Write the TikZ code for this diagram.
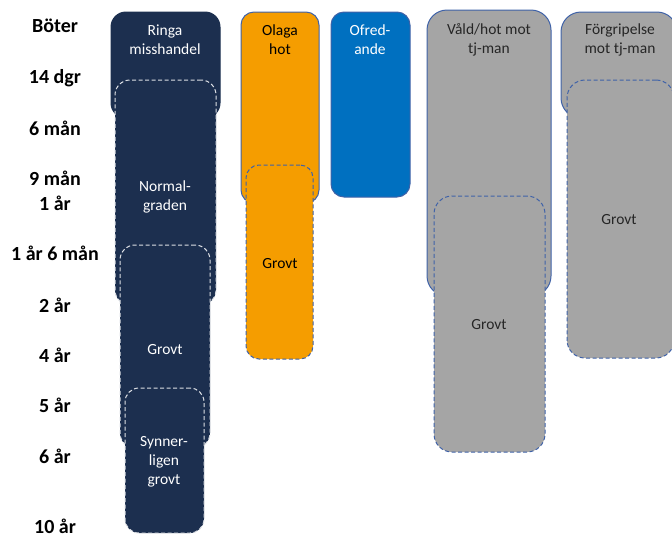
\documentclass[tikz,border=0pt]{standalone}
\usepackage{fontspec}
\setmainfont{Carlito}
\definecolor{navy}{HTML}{1C2F4F}
\definecolor{orng}{HTML}{F59D00}
\definecolor{ofblue}{HTML}{0070C0}
\definecolor{grayfill}{HTML}{A5A5A5}
\definecolor{edgeblue}{HTML}{3F62A8}
\tikzset{
  dashpat/.style={dash pattern=on 4pt off 2.5pt},
  navybox/.style={fill=navy, draw=navy, line width=1pt},
  navydash/.style={fill=navy, draw=white!85!navy, line width=1pt, dashpat},
  orbox/.style={fill=orng, draw=edgeblue, line width=1pt},
  ordash/.style={fill=orng, draw=edgeblue, line width=1pt, dashpat},
  ofbox/.style={fill=ofblue, draw=edgeblue, line width=1pt},
  grbox/.style={fill=grayfill, draw=edgeblue, line width=1pt},
  grdash/.style={fill=grayfill, draw=edgeblue, line width=1pt, dashpat},
  scale label/.style={font=\fontsize{20}{22}\selectfont\bfseries, align=center, inner sep=0pt},
  boxtext/.style={font=\fontsize{15.5}{19}\selectfont, align=center, inner sep=0pt},
}
\newcommand{\rbox}[7]{% name, style, x1,y1,x2,y2, radius
  \node[#2, rounded corners=#7pt, inner sep=0pt, minimum width={(#5-#3)*1pt}, minimum height={(#6-#4)*1pt}] (#1) at ({(#3+#5)/2},{(#4+#6)/2}) {};}
\begin{document}
\begin{tikzpicture}[x=1pt,y=-1pt]
\useasboundingbox (0,0) rectangle (672,539);
\begin{scope}
\clip (0,0) rectangle (672,539);
% column 1
\rbox{ringa}{navybox}{111}{12}{220}{118}{15}
\rbox{normal}{navydash}{115}{80}{216}{305}{15}
\rbox{grovtn}{navydash}{120}{245}{210}{448}{15}
\rbox{synn}{navydash}{125}{388}{204}{533}{14}
% column 2
\rbox{olaga}{orbox}{241}{12}{319}{203}{13}
\rbox{olagag}{ordash}{246}{165}{313}{359}{13}
% column 3
\rbox{ofred}{ofbox}{331}{12}{410}{197}{13}
% column 4
\rbox{vald}{grbox}{427}{10}{551}{296}{20}
\rbox{valdg}{grdash}{434}{196}{545}{452}{18}
% column 5
\rbox{forg}{grbox}{561}{12}{677}{118}{20}
\rbox{forgg}{grdash}{567}{80}{674}{358}{18}
\end{scope}
% box texts
\node[boxtext, text=white] (t1) at (165,40) {Ringa\\misshandel};
\node[boxtext, text=white] (t2) at (165,197) {Normal-\\graden};
\node[boxtext, text=white] (t3) at (165,350) {Grovt};
\node[boxtext, text=white] (t4) at (164,462) {Synner-\\ligen\\grovt};
\node[boxtext, text=black] (t5) at (280,40) {Olaga\\hot};
\node[boxtext, text=black] (t6) at (280,264) {Grovt};
\node[boxtext, text=white] (t7) at (370,40) {Ofred-\\ande};
\node[boxtext, text=black!85] (t8) at (489,40) {Våld/hot mot\\tj-man};
\node[boxtext, text=black!85] (t9) at (489,325) {Grovt};
\node[boxtext, text=black!85] (t10) at (620,40) {Förgripelse\\mot tj-man};
\node[boxtext, text=black!85] (t11) at (619,220) {Grovt};
% scale labels
\node[scale label] (l1) at (55,26) {Böter};
\node[scale label] (l2) at (55,78) {14 dgr};
\node[scale label] (l3) at (55,128) {6 mån};
\node[scale label] (l4) at (55,178) {9 mån};
\node[scale label] (l5) at (55,203) {1 år};
\node[scale label] (l6) at (55,253) {1 år 6 mån};
\node[scale label] (l7) at (55,305) {2 år};
\node[scale label] (l8) at (55,355) {4 år};
\node[scale label] (l9) at (55,405) {5 år};
\node[scale label] (l10) at (55,456) {6 år};
\node[scale label] (l11) at (55,526) {10 år};
\end{tikzpicture}
\end{document}
